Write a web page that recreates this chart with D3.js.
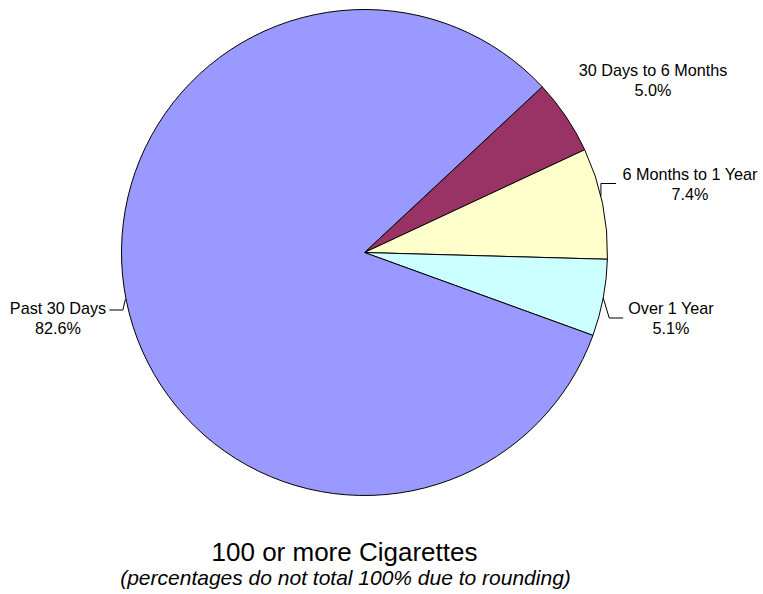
<!DOCTYPE html>
<html>
<head>
<meta charset="utf-8">
<script src="https://cdn.jsdelivr.net/npm/d3@7"></script>
<style>
  body { margin: 0; background: #fff; }
  text { font-family: "Liberation Sans", Arial, sans-serif; fill: #000; }
</style>
</head>
<body>
<div id="grafica"></div>
<script>
// datos del grafico (orden en sentido horario desde el corte superior derecho)
let categories = ["30 Days to 6 Months", "6 Months to 1 Year", "Over 1 Year", "Past 30 Days"]
let values = [5.0, 7.4, 5.1, 82.6]
let colors = ["#993366", "#FFFFCC", "#CCFFFF", "#9999FF"]

// donde va cada etiqueta (centro del texto, linea base) y si lleva linea guia
let labelAt = [[653, 76], [690, 180], [671, 314], [58, 314]]
let leaders = [null, "up", "down", "left"]

let title = "100 or more Cigarettes"
let subtitle = "(percentages do not total 100% due to rounding)"

let width = 763
let height = 594
let cx = 364.5
let cy = 252.5
let radius = 243

const svg = d3.select('#grafica')
    .append("svg")
    .attr("width", width)
    .attr("height", height)

const startAngle = 47 * Math.PI / 180

const pie = d3.pie()
    .sort(null)
    .value(d => d)
    .startAngle(startAngle)
    .endAngle(startAngle + 2 * Math.PI)

const arc = d3.arc().innerRadius(0).outerRadius(radius)

const arcs = pie(values)

const g = svg.append("g").attr("transform", "translate(" + cx + "," + cy + ")")

g.selectAll("path")
    .data(arcs)
    .enter()
    .append("path")
    .attr("d", arc)
    .attr("fill", (d, i) => colors[i])
    .attr("stroke", "#000")
    .attr("stroke-width", 1)

// lineas guia
arcs.forEach((d, i) => {
    if (!leaders[i]) return
    let mid = (d.startAngle + d.endAngle) / 2
    let px = cx + radius * Math.sin(mid)
    let py = cy - radius * Math.cos(mid)
    let pts
    if (leaders[i] == "up") {
        pts = [[px - 1.5, py - 7], [px - 1.5, labelAt[i][1] + 3.5], [px + 13.5, labelAt[i][1] + 3.5]]
    } else if (leaders[i] == "down") {
        pts = [[px, py], [px + 6, labelAt[i][1] + 4], [px + 20, labelAt[i][1] + 4]]
    } else {
        pts = [[px - 1, py - 2], [px - 3.5, labelAt[i][1] - 4], [px - 17, labelAt[i][1] - 4]]
    }
    svg.append("path")
        .attr("d", d3.line()(pts))
        .attr("fill", "none")
        .attr("stroke", "#000")
        .attr("stroke-width", 1)
})

// etiquetas
arcs.forEach((d, i) => {
    let t = svg.append("text")
        .attr("text-anchor", "middle")
        .attr("font-size", 16.2)
        .attr("x", labelAt[i][0])
        .attr("y", labelAt[i][1])
    t.append("tspan").attr("x", labelAt[i][0]).text(categories[i])
    t.append("tspan").attr("x", labelAt[i][0]).attr("dy", 19.5).text(values[i].toFixed(1) + "%")
})

svg.append("text")
    .attr("text-anchor", "middle")
    .attr("x", 344.5)
    .attr("y", 561)
    .attr("font-size", 26)
    .text(title)

svg.append("text")
    .attr("text-anchor", "middle")
    .attr("x", 345.5)
    .attr("y", 585)
    .attr("font-size", 21)
    .attr("font-style", "italic")
    .text(subtitle)
</script>
</body>
</html>
